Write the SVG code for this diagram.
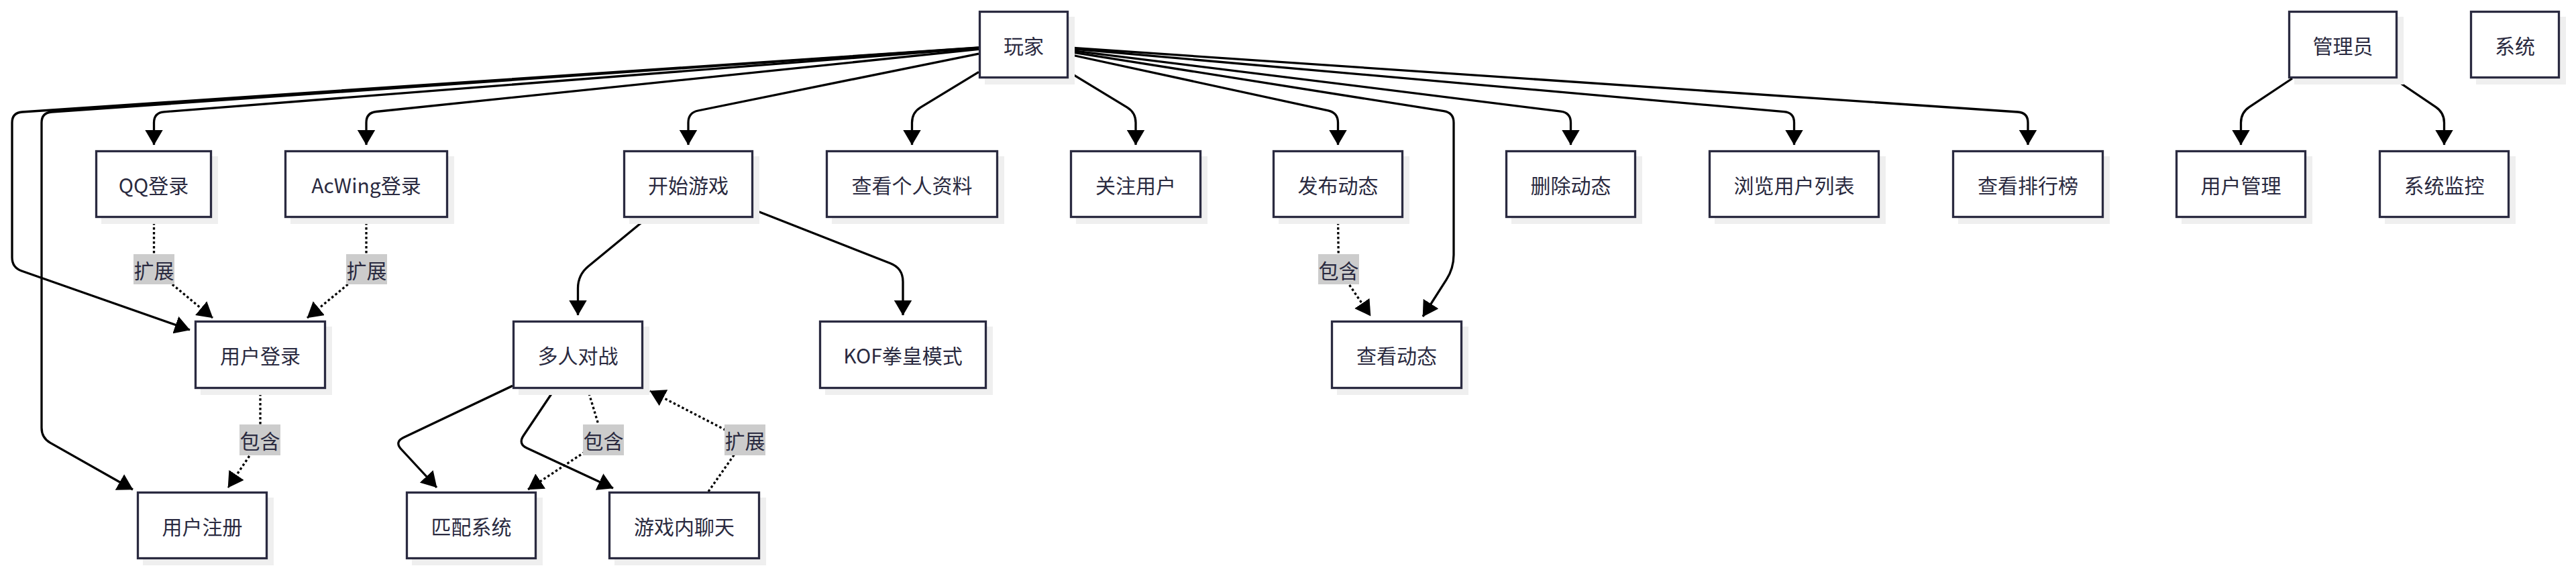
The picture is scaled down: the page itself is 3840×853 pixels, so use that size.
<svg xmlns="http://www.w3.org/2000/svg" width="3840" height="853" viewBox="0 0 3840 853">
<style>
.shadow{fill:#efefef;stroke:none}
.box{fill:#ffffff;stroke:#2a2a40;stroke-width:3.3}
.t{font-family:'Noto Sans CJK SC','Noto Sans',sans-serif;font-size:30px;fill:#2a2a40;text-anchor:middle;dominant-baseline:central}
.e{fill:none;stroke:#000;stroke-width:3.3;stroke-linejoin:round}
.d{fill:none;stroke:#000;stroke-width:3.3;stroke-dasharray:3.5 3.5}
.lb{fill:#cccccc}
</style>
<defs>
<marker id="arr" viewBox="0 0 24 27" markerUnits="userSpaceOnUse" markerWidth="24" markerHeight="27" refX="22.5" refY="13.5" orient="auto">
<path d="M0,0 L23,13.5 L0,27 z" fill="#000"/>
</marker>
</defs>
<rect width="3840" height="853" fill="#ffffff"/>

<g id="connectors">
<path class="e" marker-end="url(#arr)" d="M1459,71 L33,167 Q18,168 18,183 L18,384 Q18,399 32.2,404 L283,492"/>
<path class="e" marker-end="url(#arr)" d="M1459,71.1 L77,167 Q62,168 62,183 L62,638 Q62,653 75,660.4 L198,730"/>
<path class="e" marker-end="url(#arr)" d="M1459,71.7 L244.5,166.8 Q229.5,168 229.5,183 L229.5,216"/>
<path class="e" marker-end="url(#arr)" d="M1459,73.4 L560.9,166.5 Q546,168 546,183 L546,216"/>
<path class="e" marker-end="url(#arr)" d="M1459,80.1 L1040.7,165 Q1026,168 1026,183 L1026,216"/>
<path class="e" marker-end="url(#arr)" d="M1459,107.3 L1372.3,160.2 Q1359.5,168 1359.5,183 L1359.5,216"/>
<path class="e" marker-end="url(#arr)" d="M1593,107.2 L1680.2,160.2 Q1693,168 1693,183 L1693,216"/>
<path class="e" marker-end="url(#arr)" d="M1593,81 L1979.8,164.8 Q1994.5,168 1994.5,183 L1994.5,216"/>
<path class="e" marker-end="url(#arr)" d="M1593,77.1 L2152.2,165.7 Q2167,168 2167,183 L2167,380 Q2167,400 2156.2,416.9 L2121,472"/>
<path class="e" marker-end="url(#arr)" d="M1593,74.8 L2326.6,166.1 Q2341.5,168 2341.5,183 L2341.5,216"/>
<path class="e" marker-end="url(#arr)" d="M1593,72.4 L2659.6,166.7 Q2674.5,168 2674.5,183 L2674.5,216"/>
<path class="e" marker-end="url(#arr)" d="M1593,71 L3008,167 Q3023,168 3023,183 L3023,216"/>
<path class="e" marker-end="url(#arr)" d="M3417,117 L3353,159.7 Q3340.5,168 3340.5,183 L3340.5,216"/>
<path class="e" marker-end="url(#arr)" d="M3568,117 L3631,159.6 Q3643.5,168 3643.5,183 L3643.5,216"/>
<path class="e" marker-end="url(#arr)" d="M964.7,325 L876.9,397.3 Q861.5,410 861.5,430 L861.5,470"/>
<path class="e" marker-end="url(#arr)" d="M1123,312.5 L1327.4,392.7 Q1346,400 1346,420 L1346,470"/>
<path class="e" marker-end="url(#arr)" d="M764,575.3 L601.5,652.6 Q588,659 598.2,670 L651,727"/>
<path class="e" marker-end="url(#arr)" d="M827,580 L780.4,649.5 Q772,662 785.6,668.3 L914,728"/>
<path class="d" marker-end="url(#arr)" d="M229.5,325 L229.5,401.5 L317,474"/>
<path class="d" marker-end="url(#arr)" d="M546,325 L546,401.5 L458,474"/>
<path class="d" marker-end="url(#arr)" d="M388,580 L388,656 L340,727"/>
<path class="d" marker-end="url(#arr)" d="M1994.5,325 L1995.5,401.5 L2043,471"/>
<path class="d" marker-end="url(#arr)" d="M876,580 L899,656 L787,730"/>
<path class="d" marker-end="url(#arr)" d="M1056,733 L1110,656 L969,583"/>
<g id="edge-labels">
<rect class="lb" x="199" y="379" width="61" height="45"/><text class="t" x="229.5" y="401.5">扩展</text>
<rect class="lb" x="516" y="379" width="61" height="45"/><text class="t" x="546.5" y="401.5">扩展</text>
<rect class="lb" x="1965" y="379" width="61" height="45"/><text class="t" x="1995.5" y="401.5">包含</text>
<rect class="lb" x="357" y="633" width="61" height="46"/><text class="t" x="387.5" y="656">包含</text>
<rect class="lb" x="869" y="633" width="61" height="46"/><text class="t" x="899.5" y="656">包含</text>
<rect class="lb" x="1080" y="633" width="61" height="46"/><text class="t" x="1110.5" y="656">扩展</text>
</g>
</g>

<g id="n-player"><rect class="shadow" x="1468" y="25" width="134" height="101"/><rect class="box" x="1460.5" y="17.5" width="131" height="98"/><text class="t" x="1526" y="66.5">玩家</text></g>
<g id="n-admin"><rect class="shadow" x="3420" y="25" width="163" height="101"/><rect class="box" x="3412.5" y="17.5" width="160" height="98"/><text class="t" x="3492.5" y="66.5">管理员</text></g>
<g id="n-system"><rect class="shadow" x="3691" y="25" width="134" height="101"/><rect class="box" x="3683.5" y="17.5" width="131" height="98"/><text class="t" x="3749" y="66.5">系统</text></g>

<g id="n-qq"><rect class="shadow" x="151" y="233" width="174" height="101"/><rect class="box" x="143.5" y="225.5" width="171" height="98"/><text class="t" x="229" y="274.5">QQ登录</text></g>
<g id="n-acwing"><rect class="shadow" x="433" y="233" width="244" height="101"/><rect class="box" x="425.5" y="225.5" width="241" height="98"/><text class="t" x="546" y="274.5">AcWing登录</text></g>
<g id="n-start"><rect class="shadow" x="938" y="233" width="194" height="101"/><rect class="box" x="930.5" y="225.5" width="191" height="98"/><text class="t" x="1026" y="274.5">开始游戏</text></g>
<g id="n-profile"><rect class="shadow" x="1240" y="233" width="257" height="101"/><rect class="box" x="1232.5" y="225.5" width="254" height="98"/><text class="t" x="1359.5" y="274.5">查看个人资料</text></g>
<g id="n-follow"><rect class="shadow" x="1604" y="233" width="196" height="101"/><rect class="box" x="1596.5" y="225.5" width="193" height="98"/><text class="t" x="1693" y="274.5">关注用户</text></g>
<g id="n-post"><rect class="shadow" x="1906" y="233" width="195" height="101"/><rect class="box" x="1898.5" y="225.5" width="192" height="98"/><text class="t" x="1994.5" y="274.5">发布动态</text></g>
<g id="n-delete"><rect class="shadow" x="2253" y="233" width="195" height="101"/><rect class="box" x="2245.5" y="225.5" width="192" height="98"/><text class="t" x="2341.5" y="274.5">删除动态</text></g>
<g id="n-userlist"><rect class="shadow" x="2556" y="233" width="255" height="101"/><rect class="box" x="2548.5" y="225.5" width="252" height="98"/><text class="t" x="2674.5" y="274.5">浏览用户列表</text></g>
<g id="n-rank"><rect class="shadow" x="2919" y="233" width="226" height="101"/><rect class="box" x="2911.5" y="225.5" width="223" height="98"/><text class="t" x="3023" y="274.5">查看排行榜</text></g>
<g id="n-usermgmt"><rect class="shadow" x="3252" y="233" width="195" height="101"/><rect class="box" x="3244.5" y="225.5" width="192" height="98"/><text class="t" x="3340.5" y="274.5">用户管理</text></g>
<g id="n-monitor"><rect class="shadow" x="3555" y="233" width="195" height="101"/><rect class="box" x="3547.5" y="225.5" width="192" height="98"/><text class="t" x="3643.5" y="274.5">系统监控</text></g>

<g id="n-login"><rect class="shadow" x="299" y="487" width="196" height="102"/><rect class="box" x="291.5" y="479.5" width="193" height="99"/><text class="t" x="388" y="529">用户登录</text></g>
<g id="n-multi"><rect class="shadow" x="773" y="487" width="195" height="102"/><rect class="box" x="765.5" y="479.5" width="192" height="99"/><text class="t" x="861.5" y="529">多人对战</text></g>
<g id="n-kof"><rect class="shadow" x="1230" y="487" width="250" height="102"/><rect class="box" x="1222.5" y="479.5" width="247" height="99"/><text class="t" x="1346" y="529">KOF拳皇模式</text></g>
<g id="n-viewpost"><rect class="shadow" x="1993" y="487" width="196" height="102"/><rect class="box" x="1985.5" y="479.5" width="193" height="99"/><text class="t" x="2082" y="529">查看动态</text></g>

<g id="n-register"><rect class="shadow" x="213" y="742" width="195" height="101"/><rect class="box" x="205.5" y="734.5" width="192" height="98"/><text class="t" x="301.5" y="783.5">用户注册</text></g>
<g id="n-match"><rect class="shadow" x="614" y="742" width="195" height="101"/><rect class="box" x="606.5" y="734.5" width="192" height="98"/><text class="t" x="702.5" y="783.5">匹配系统</text></g>
<g id="n-chat"><rect class="shadow" x="916" y="742" width="226" height="101"/><rect class="box" x="908.5" y="734.5" width="223" height="98"/><text class="t" x="1020" y="783.5">游戏内聊天</text></g>
</svg>
